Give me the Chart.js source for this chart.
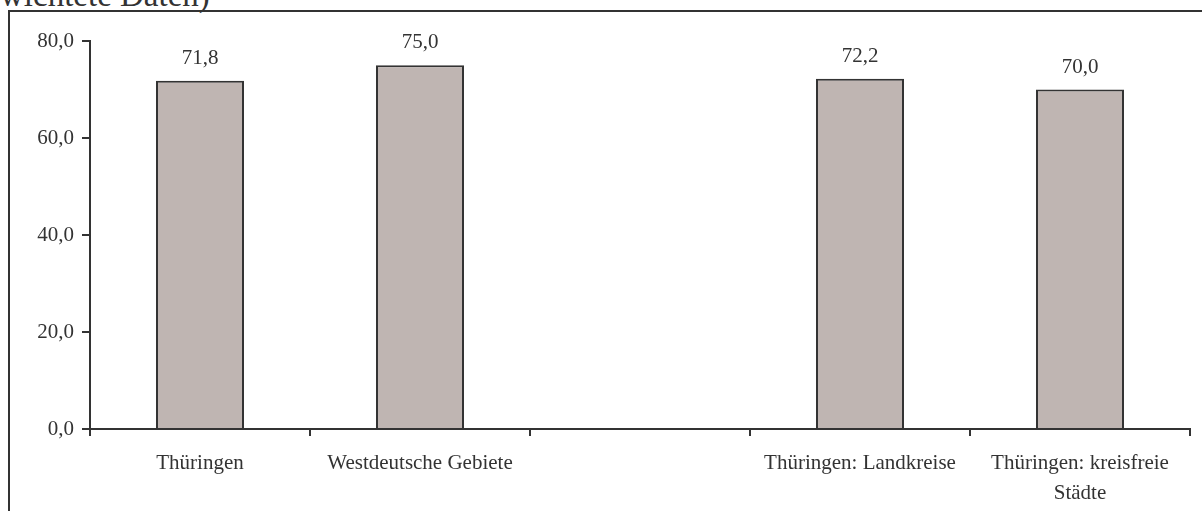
<!DOCTYPE html>
<html>
<head>
<meta charset="utf-8">
<script src="https://cdn.jsdelivr.net/npm/chart.js@4/dist/chart.umd.min.js"></script>
<style>
  html, body { margin: 0; padding: 0; background: #fff; overflow: hidden; }
  #wrap { position: relative; width: 1202px; height: 511px; overflow: hidden; }
  #title { position: absolute; left: 0; top: -21px; font-family: "Liberation Serif", "Times New Roman", serif; font-size: 33px; color: #333; white-space: nowrap; line-height: 33px; }
  #frame { position: absolute; left: 8px; top: 10px; width: 1300px; height: 600px; border-left: 2px solid #333; border-top: 2px solid #333; }
  canvas { position: absolute; left: 0; top: 0; }
</style>
</head>
<body>
<div id="wrap">
  <div id="title">wichtete Daten)</div>
  <div id="frame"></div>
  <canvas id="c" width="1202" height="511"></canvas>
</div>
<script>
const categories = ["Thüringen", "Westdeutsche Gebiete", "", "Thüringen: Landkreise", ["Thüringen: kreisfreie", "Städte"]];
const values = [71.8, 75.0, null, 72.2, 70.0];
const yTicks = [0, 20, 40, 60, 80];

const fmt = v => v.toFixed(1).replace('.', ',');
const FONT = "'Liberation Serif', 'Times New Roman', serif";

const valueLabels = {
  id: 'valueLabels',
  afterDatasetsDraw(chart) {
    const ctx = chart.ctx;
    const meta = chart.getDatasetMeta(0);
    ctx.save();
    ctx.font = "21px " + FONT;
    ctx.fillStyle = '#333';
    ctx.textAlign = 'center';
    ctx.textBaseline = 'alphabetic';
    meta.data.forEach((bar, i) => {
      const v = values[i];
      if (v === null || v === undefined) return;
      ctx.fillText(fmt(v), bar.x, bar.y - 17);
    });
    ctx.restore();
  }
};

new Chart(document.getElementById('c'), {
  type: 'bar',
  data: {
    labels: categories,
    datasets: [{
      data: values,
      backgroundColor: '#BFB5B2',
      borderColor: '#333',
      borderWidth: 2,
      borderSkipped: 'bottom',
      barPercentage: 0.4,
      categoryPercentage: 1.0
    }]
  },
  options: {
    responsive: false,
    animation: false,
    devicePixelRatio: 1,
    layout: { padding: { top: 41, right: 12, left: 0, bottom: 0 } },
    plugins: { legend: { display: false }, tooltip: { enabled: false }, title: { display: false } },
    scales: {
      x: {
        offset: true,
        grid: { offset: true, drawOnChartArea: false, drawTicks: true, tickLength: 7, color: '#333', lineWidth: 2 },
        border: { display: true, color: '#333', width: 2 },
        ticks: { color: '#333', font: { family: FONT, size: 21, lineHeight: 1.4 }, padding: 13, maxRotation: 0, autoSkip: false },
        afterFit(s) { s.height = 82; }
      },
      y: {
        min: 0, max: 80,
        afterBuildTicks(s) { s.ticks = yTicks.map(v => ({ value: v })); },
        grid: { drawOnChartArea: false, drawTicks: true, tickLength: 8, color: '#333', lineWidth: 2 },
        border: { display: true, color: '#333', width: 2 },
        ticks: { color: '#333', font: { family: FONT, size: 21 }, padding: 8, callback: v => fmt(v) },
        afterFit(s) { s.width = 90; }
      }
    }
  },
  plugins: [valueLabels]
});
</script>
</body>
</html>
